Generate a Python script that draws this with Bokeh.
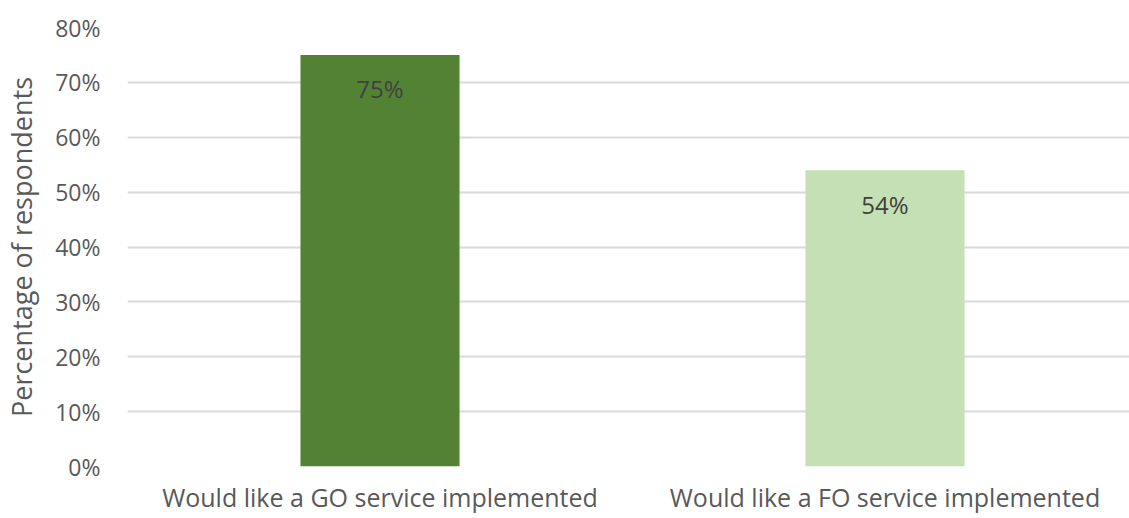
from bokeh.plotting import figure
from bokeh.models import Range1d, FixedTicker, NumeralTickFormatter, ColumnDataSource
from bokeh.core.properties import value
from bokeh.embed import file_html
from bokeh.resources import INLINE

categories = ["Would like a GO service implemented", "Would like a FO service implemented"]
values = [0.75, 0.54]
labels = ["75%", "54%"]
colors = ["#548235", "#C5E0B4"]
y_ticks = [0.0, 0.1, 0.2, 0.3, 0.4, 0.5, 0.6, 0.7, 0.8]

xs = [i + 0.5 for i in range(len(categories))]
src = ColumnDataSource(dict(x=xs, top=values, color=colors, label=labels))

FONT = "Open Sans"
W, H = 1129, 518
LEFT, TOP, BOTTOM = 127, 27, 52
p = figure(width=W, height=H, output_backend="svg", toolbar_location=None,
           x_range=Range1d(0, (W - LEFT) / 505), y_range=Range1d(0, 0.8),
           min_border_left=LEFT, min_border_right=0, min_border_top=TOP, min_border_bottom=BOTTOM)
p.outline_line_color = None
p.background_fill_color = "white"

p.vbar(x="x", top="top", bottom=0, width=0.315, color="color", line_color=None, source=src)
p.text(x="x", y="top", text="label", source=src, y_offset=34, text_align="center",
       text_baseline="middle", text_font=value(FONT), text_font_size="24px", text_color="#404040")

# y axis
p.yaxis.ticker = FixedTicker(ticks=y_ticks)
p.yaxis.formatter = NumeralTickFormatter(format="0%")
p.yaxis.axis_line_color = None
p.yaxis.major_tick_line_color = None
p.yaxis.major_tick_out = 0
p.yaxis.major_tick_in = 0
p.yaxis.minor_tick_line_color = None
p.yaxis.minor_tick_out = 0
p.yaxis.major_label_standoff = 27
p.yaxis.major_label_text_font = FONT
p.yaxis.major_label_text_font_size = "23px"
p.yaxis.major_label_text_color = "#595959"
p.yaxis.axis_label = "Percentage of respondents"
p.yaxis.axis_label_text_font = FONT
p.yaxis.axis_label_text_font_size = "27px"
p.yaxis.axis_label_text_font_style = "normal"
p.yaxis.axis_label_text_color = "#595959"
p.yaxis.axis_label_standoff = 12

# x axis
p.xaxis.ticker = FixedTicker(ticks=xs)
p.xaxis.major_label_overrides = {x: c for x, c in zip(xs, categories)}
p.xaxis.axis_line_color = None
p.xaxis.major_tick_line_color = None
p.xaxis.major_tick_out = 0
p.xaxis.major_tick_in = 0
p.xaxis.minor_tick_line_color = None
p.xaxis.minor_tick_out = 0
p.xaxis.major_label_standoff = 13
p.xaxis.major_label_text_font = FONT
p.xaxis.major_label_text_font_size = "25px"
p.xaxis.major_label_text_color = "#595959"

p.xgrid.grid_line_color = None
p.ygrid.ticker = FixedTicker(ticks=y_ticks)
p.ygrid.grid_line_color = "#D9D9D9"
p.ygrid.grid_line_width = 2

open("out.html", "w").write(file_html(p, INLINE))
